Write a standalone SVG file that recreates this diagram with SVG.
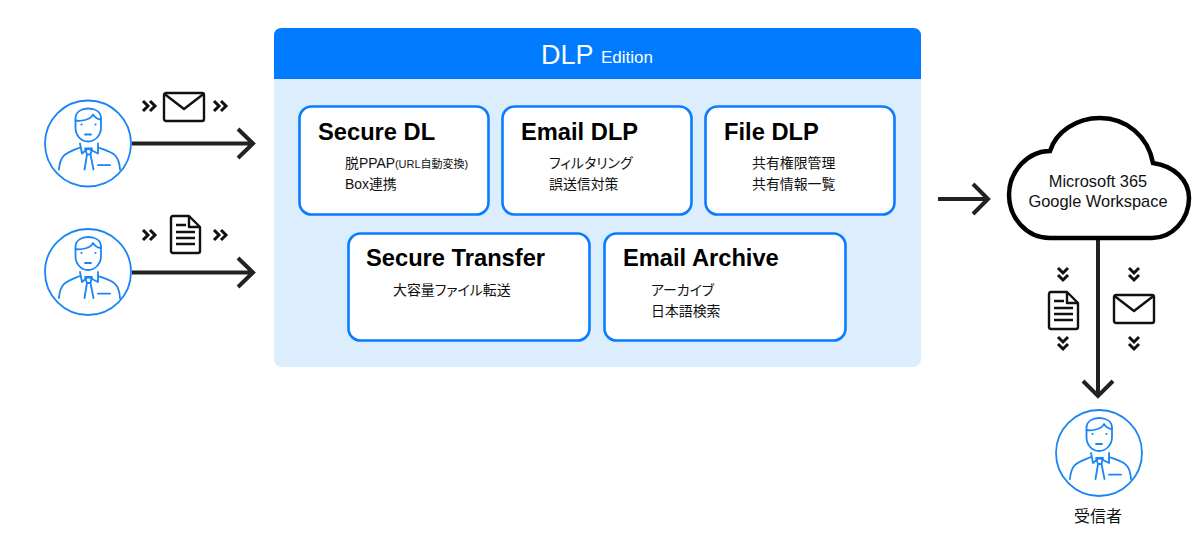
<svg xmlns="http://www.w3.org/2000/svg" width="1200" height="538" viewBox="0 0 1200 538">
<style>
text{font-family:"Liberation Sans","Noto Sans CJK JP",sans-serif;fill:#111}
.h{font-size:23.700px;font-weight:700;fill:#000}
.s{font-size:13.900px;font-feature-settings:"palt"}
.t{font-size:16.400px;text-anchor:middle}
.box{fill:#fff;stroke:#0a7cff;stroke-width:2.600}
.p{fill:none;stroke:#1a85f5;stroke-width:1.800;stroke-linejoin:round;stroke-linecap:round}
.c{fill:none;stroke:#222;stroke-width:4}
.k{fill:none;stroke:#111;stroke-width:3}
.i{fill:none;stroke:#111;stroke-width:2.400;stroke-linejoin:round}
</style>
<defs>
<g id="person">
<circle r="43" fill="#fff" class="p"/>
<path class="p" d="M-12.500,-25C-12.500,-32 -6,-35 0,-35C7,-35 13,-32 13,-25L13,-16C13,-8 7,-2 0,-2C-7,-2 -12.500,-8 -12.500,-16Z"/>
<path class="p" d="M-12.500,-23C-6,-22 3,-24 5,-29C7,-26 10,-24 13,-24"/>
<path class="p" d="M-3,-9H3M-8,0L-6,10L0,5L10,10L10,0M-8,4C-20,9 -28,10 -29,26M10,4C24,9 31,10 32,26"/>
<path class="p" d="M-3,5H4L2.500,11L-1,11ZM-1,11L-3.500,26M2.500,11L5.500,26M10,21.700H22"/>
<circle cx="-6.500" cy="-19" r="1.100" fill="#1a85f5"/><circle cx="7.500" cy="-19" r="1.100" fill="#1a85f5"/>
</g>
<g id="env"><rect x="1" y="1" width="40" height="28" rx="2" class="i"/><path class="i" d="M1.500,2L21,17L40.500,2"/></g>
<g id="doc"><path class="i" d="M3,0H19L30,11V35Q30,37 28,37H3Q1,37 1,35V2Q1,0 3,0ZM19,0V11H30"/><path class="i" d="M6,9H16M6,16H25M6,22H25M6,28H25" stroke-width="2.600"/></g>
<path id="ch" class="k" d="M0,-5L5,0L0,5M7,-5L12,0L7,5"/>
<path id="cv" class="k" d="M-5,0L0,5L5,0M-5,7L0,12L5,7"/>
</defs>
<g id="panel">
<rect x="274" y="28" width="647" height="339" rx="8" fill="#dcedfd"/>
<path d="M274,79V36Q274,28 282,28H913Q921,28 921,36V79Z" fill="#007bff"/>
<text x="541" y="64" font-size="27" style="fill:#fff">DLP</text>
<text x="601" y="63" font-size="17" style="fill:#fff">Edition</text>
</g>
<g id="connectors">
<path class="c" d="M132,143.500H254M238,129L253,143.500L238,158"/>
<path class="c" d="M132,272.500H254M238,258L253,272.500L238,287"/>
<path class="c" d="M938,199H987M973,184L988,199L973,214"/>
<path class="c" d="M1098,238V395M1083,381L1098,396L1113,381"/>
</g>
<g id="secure-dl"><rect class="box" x="299.500" y="106.500" width="189" height="108" rx="12"/>
<text class="h" x="318" y="140">Secure DL</text>
<text class="s" x="345" y="168">脱PPAP<tspan font-size="11">(URL自動変換)</tspan></text>
<text class="s" x="345" y="189">Box連携</text></g>
<g id="email-dlp"><rect class="box" x="502.500" y="106.500" width="189" height="108" rx="12"/>
<text class="h" x="521" y="140">Email DLP</text>
<text class="s" x="549" y="168">フィルタリング</text>
<text class="s" x="549" y="189">誤送信対策</text></g>
<g id="file-dlp"><rect class="box" x="705.500" y="106.500" width="189" height="108" rx="12"/>
<text class="h" x="724" y="140">File DLP</text>
<text class="s" x="752" y="168">共有権限管理</text>
<text class="s" x="752" y="189">共有情報一覧</text></g>
<g id="secure-transfer"><rect class="box" x="348.500" y="233.500" width="241" height="107" rx="12"/>
<text class="h" x="366" y="266">Secure Transfer</text>
<text class="s" x="393" y="295">大容量ファイル転送</text></g>
<g id="email-archive"><rect class="box" x="604.500" y="233.500" width="241" height="107" rx="12"/>
<text class="h" x="623" y="266">Email Archive</text>
<text class="s" x="651" y="295">アーカイブ</text>
<text class="s" x="651" y="316">日本語検索</text></g>
<g id="cloud">
<path d="M1050,238C1026,238 1009,217 1009,195C1009,171 1028,151 1050,151C1056,132 1076,118 1100,118C1126,118 1148,136 1153,163C1174,166 1189,180 1189,198C1189,220 1172,238 1152,238Z" fill="#fff" stroke="#000" stroke-width="4.500"/>
<text class="t" x="1098" y="187">Microsoft 365</text>
<text class="t" x="1098" y="207">Google Workspace</text>
</g>
<g id="sender-1"><use href="#person" x="88" y="143.500"/></g>
<g id="sender-2"><use href="#person" x="88" y="272"/></g>
<g id="receiver"><use href="#person" x="1099" y="453"/>
<text x="1098" y="522" font-size="16" text-anchor="middle">受信者</text></g>
<g id="icons">
<use href="#env" x="163" y="92"/><use href="#doc" x="170" y="216"/>
<use href="#ch" x="143" y="106"/><use href="#ch" x="214" y="106"/>
<use href="#ch" x="143" y="235"/><use href="#ch" x="214" y="235"/>
<use href="#doc" x="1048" y="292"/><use href="#env" x="1113" y="294"/>
<use href="#cv" x="1063" y="268"/><use href="#cv" x="1134" y="268"/>
<use href="#cv" x="1063" y="337"/><use href="#cv" x="1134" y="337"/>
</g>
</svg>
